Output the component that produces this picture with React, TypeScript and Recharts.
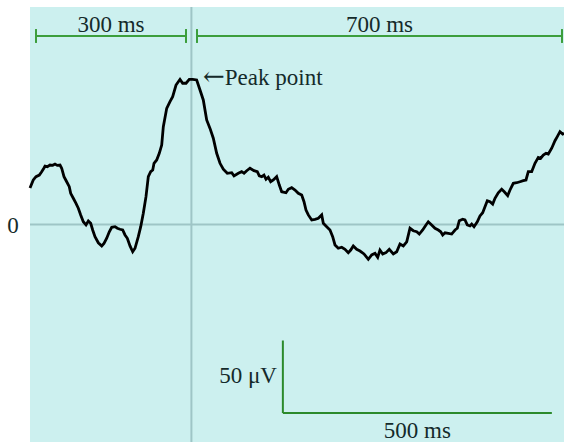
import React from 'react';
import { LineChart, Line, XAxis, YAxis, ReferenceLine, ReferenceArea, ReferenceDot } from 'recharts';

const timeMs: number[] = [
  0, 6.1, 11.2, 17.3, 21.7, 26.0, 27.9, 32.2, 37.2, 42.2, 46.5, 50.7, 55.8, 58.9, 63.2, 68.2, 73.0, 75.6, 80.5, 85.5,
  89.8, 94.2, 99.1, 104.1, 108.4, 112.8, 116.5, 120.8, 127.0, 133.3, 137.5, 142.6, 147.4, 151.9, 158.0, 162.3, 167.3, 172.3, 176.6, 180.9,
  185.9, 190.9, 195.2, 201.3, 205.8, 210.6, 215.6, 219.9, 224.3, 228.1, 230.5, 235.5, 240.3, 244.8, 247.8, 254.1, 260.2, 265.2, 271.4, 278.8,
  283.8, 290.0, 296.1, 302.4, 309.8, 316.0, 322.1, 328.4, 334.6, 340.7, 347.0, 353.2, 359.3, 366.7, 374.9, 379.2, 387.2, 393.5, 397.8, 402.8,
  408.9, 416.3, 422.5, 426.2, 430.7, 434.9, 438.7, 442.9, 447.4, 452.2, 458.5, 463.4, 467.8, 475.8, 480.1, 486.4, 492.6, 498.7, 505.0, 509.3,
  513.0, 517.3, 523.6, 529.7, 535.9, 542.2, 545.2, 551.5, 557.6, 562.6, 566.9, 573.0, 579.4, 585.5, 591.6, 596.1, 600.9, 607.2, 613.4, 620.8,
  628.8, 635.1, 641.3, 646.3, 650.5, 655.6, 661.7, 667.8, 675.3, 681.6, 687.7, 693.9, 700.2, 706.3, 712.4, 718.8, 723.6, 729.9, 736.0, 740.3,
  746.6, 752.8, 758.9, 763.4, 767.1, 771.4, 777.5, 783.8, 790.0, 794.2, 797.9, 804.3, 808.5, 812.8, 817.8, 821.0, 825.3, 831.4, 836.4, 841.4,
  845.7, 850.0, 855.0, 860.0, 864.3, 870.4, 876.7, 881.6, 887.9, 892.2, 898.3, 904.6, 910.8, 916.9, 921.9, 926.2, 932.5, 938.6, 944.8, 949.2,
  954.1, 959.1, 963.4, 969.7, 975.8, 980.1, 985.1, 990.1, 992.6,
];

const amplitudeUv: number[] = [
  25.2, 30.7, 33.0, 34.1, 36.4, 39.0, 40.3, 39.9, 41.0, 40.8, 41.7, 40.8, 41.0, 38.8, 33.0, 29.5, 26.1, 21.5, 18.1, 14.6,
  11.2, 6.6, 1.9, -0.3, 2.4, 0.8, -3.8, -8.4, -12.6, -14.8, -13.0, -9.5, -5.0, -1.9, -1.5, -2.6, -3.3, -3.8, -7.2, -9.5,
  -14.8, -18.8, -16.4, -8.4, -1.5, 7.7, 19.2, 33.0, 36.4, 37.6, 42.2, 44.5, 49.1, 54.8, 67.5, 80.1, 84.7, 88.1, 96.2, 100.1,
  97.4, 97.4, 100.1, 100.1, 99.7, 92.8, 85.9, 72.1, 66.3, 59.5, 49.1, 42.2, 38.1, 35.3, 35.7, 33.5, 35.3, 36.4, 35.3, 37.1,
  38.8, 37.1, 36.4, 33.5, 33.0, 34.1, 31.2, 32.6, 29.5, 30.7, 33.0, 27.2, 22.6, 21.9, 24.3, 25.4, 23.8, 21.5, 20.3, 15.7,
  10.0, 6.6, 3.1, 3.6, 4.3, 6.6, 0.8, -1.5, -3.8, -8.4, -14.1, -16.4, -15.7, -17.1, -19.4, -17.6, -14.8, -17.1, -18.3, -20.3,
  -24.0, -21.0, -19.9, -22.6, -17.6, -20.3, -19.4, -17.1, -20.3, -18.8, -13.4, -14.8, -11.9, -2.6, -4.3, -5.0, -6.6, -3.8, -0.3, 1.9,
  -0.3, -2.6, -3.8, -5.0, -7.2, -5.7, -6.1, -6.6, -3.8, -2.6, 2.6, 3.6, 3.1, -0.3, -1.0, 0.3, -1.5, 1.9, 5.9, 8.1,
  12.3, 16.4, 15.7, 14.1, 18.1, 21.9, 24.3, 22.6, 19.9, 23.8, 28.4, 28.8, 29.5, 30.2, 30.7, 36.4, 36.4, 42.2, 46.3, 45.7,
  47.9, 49.1, 48.6, 52.6, 57.8, 60.6, 64.0, 62.4, 62.9,
];

const yTicks: number[] = [0];
const peakTimeMs = 300;
const bracketLabels: string[] = ['300 ms', '700 ms'];
const bracketStarts: number[] = [11.2, 310.4];
const bracketEnds: number[] = [290, 988.8];
const bracketLevel = 130;
const bracketTickHalf = 4.8;
const scaleBarTime: number[] = [470, 970];
const scaleBarAmp: number[] = [-80, -130];
const scaleBarLabels: string[] = ['50 μV', '500 ms'];
const peakArrow = '←';
const peakLabel = 'Peak point';

const data = timeMs.map((t, i) => ({ t, v: amplitudeUv[i] }));

const FONT = '"Liberation Serif", "Times New Roman", serif';
const TEXT_COLOR = '#142a2a';
const GREEN = '#3c9e3c';
const DARK_GREEN = '#2b8a2b';
const REF_COLOR = '#9ec5c6';

const makeText = (value: string, anchor: 'start' | 'middle' | 'end') => (p: any) => (
  <text x={p.cx} y={p.cy} textAnchor={anchor} fontFamily={FONT} fontSize={23} fill={TEXT_COLOR}>
    {value}
  </text>
);

const peakText = (p: any) => (
  <text x={p.cx} y={p.cy} textAnchor="start" fontFamily={FONT} fontSize={23} fill={TEXT_COLOR}>
    <tspan fontFamily='"DejaVu Serif", serif' fontSize={26}>{peakArrow}</tspan>
    <tspan>{peakLabel}</tspan>
  </text>
);

export default function App() {
  return (
    <div style={{ position: 'absolute', left: 0, top: 0, width: 564, height: 442, overflow: 'hidden', background: '#fff' }}>
      <LineChart width={568} height={442} data={data} margin={{ top: 7, right: 0, bottom: 0, left: 0 }}>
        <XAxis dataKey="t" type="number" domain={[0, 1000]} hide />
        <YAxis
          type="number"
          domain={[-150, 150]}
          ticks={yTicks}
          width={30}
          axisLine={false}
          tickLine={false}
          tick={(p: any) => (
            <text x={13} y={p.y} dy="0.35em" textAnchor="middle" fontFamily={FONT} fontSize={23} fill={TEXT_COLOR}>
              {p.payload.value}
            </text>
          )}
        />
        <ReferenceArea x1={0} x2={1000} y1={-150} y2={150} fill="#ccf0ef" fillOpacity={1} stroke="none" />
        <ReferenceLine y={0} stroke={REF_COLOR} strokeWidth={2} />
        <ReferenceLine x={peakTimeMs} stroke={REF_COLOR} strokeWidth={2} />
        {bracketStarts.map((s, i) => (
          <ReferenceLine
            key={'b' + i}
            segment={[{ x: s, y: bracketLevel }, { x: bracketEnds[i], y: bracketLevel }]}
            stroke={GREEN}
            strokeWidth={2}
          />
        ))}
        {bracketStarts.map((s, i) => (
          <ReferenceLine
            key={'bs' + i}
            segment={[{ x: s, y: bracketLevel - bracketTickHalf }, { x: s, y: bracketLevel + bracketTickHalf }]}
            stroke={GREEN}
            strokeWidth={2}
          />
        ))}
        {bracketEnds.map((e, i) => (
          <ReferenceLine
            key={'be' + i}
            segment={[{ x: e, y: bracketLevel - bracketTickHalf }, { x: e, y: bracketLevel + bracketTickHalf }]}
            stroke={GREEN}
            strokeWidth={2}
          />
        ))}
        {bracketStarts.map((s, i) => (
          <ReferenceDot
            key={'bl' + i}
            x={(s + bracketEnds[i]) / 2}
            y={133.1}
            r={0}
            shape={makeText(bracketLabels[i], 'middle')}
          />
        ))}
        <ReferenceLine
          segment={[{ x: scaleBarTime[0], y: scaleBarAmp[0] }, { x: scaleBarTime[0], y: scaleBarAmp[1] }]}
          stroke={DARK_GREEN}
          strokeWidth={2}
        />
        <ReferenceLine
          segment={[{ x: scaleBarTime[0], y: scaleBarAmp[1] }, { x: scaleBarTime[1], y: scaleBarAmp[1] }]}
          stroke={DARK_GREEN}
          strokeWidth={2}
        />
        <ReferenceDot x={459.1} y={-109.5} r={0} shape={makeText(scaleBarLabels[0], 'end')} />
        <ReferenceDot x={(scaleBarTime[0] + scaleBarTime[1]) / 2} y={-147.3} r={0} shape={makeText(scaleBarLabels[1], 'middle')} />
        <ReferenceDot x={321.6} y={96.2} r={0} shape={peakText} />
        <Line
          type="linear"
          dataKey="v"
          stroke="#000"
          strokeWidth={2.8}
          dot={false}
          isAnimationActive={false}
        />
      </LineChart>
    </div>
  );
}
